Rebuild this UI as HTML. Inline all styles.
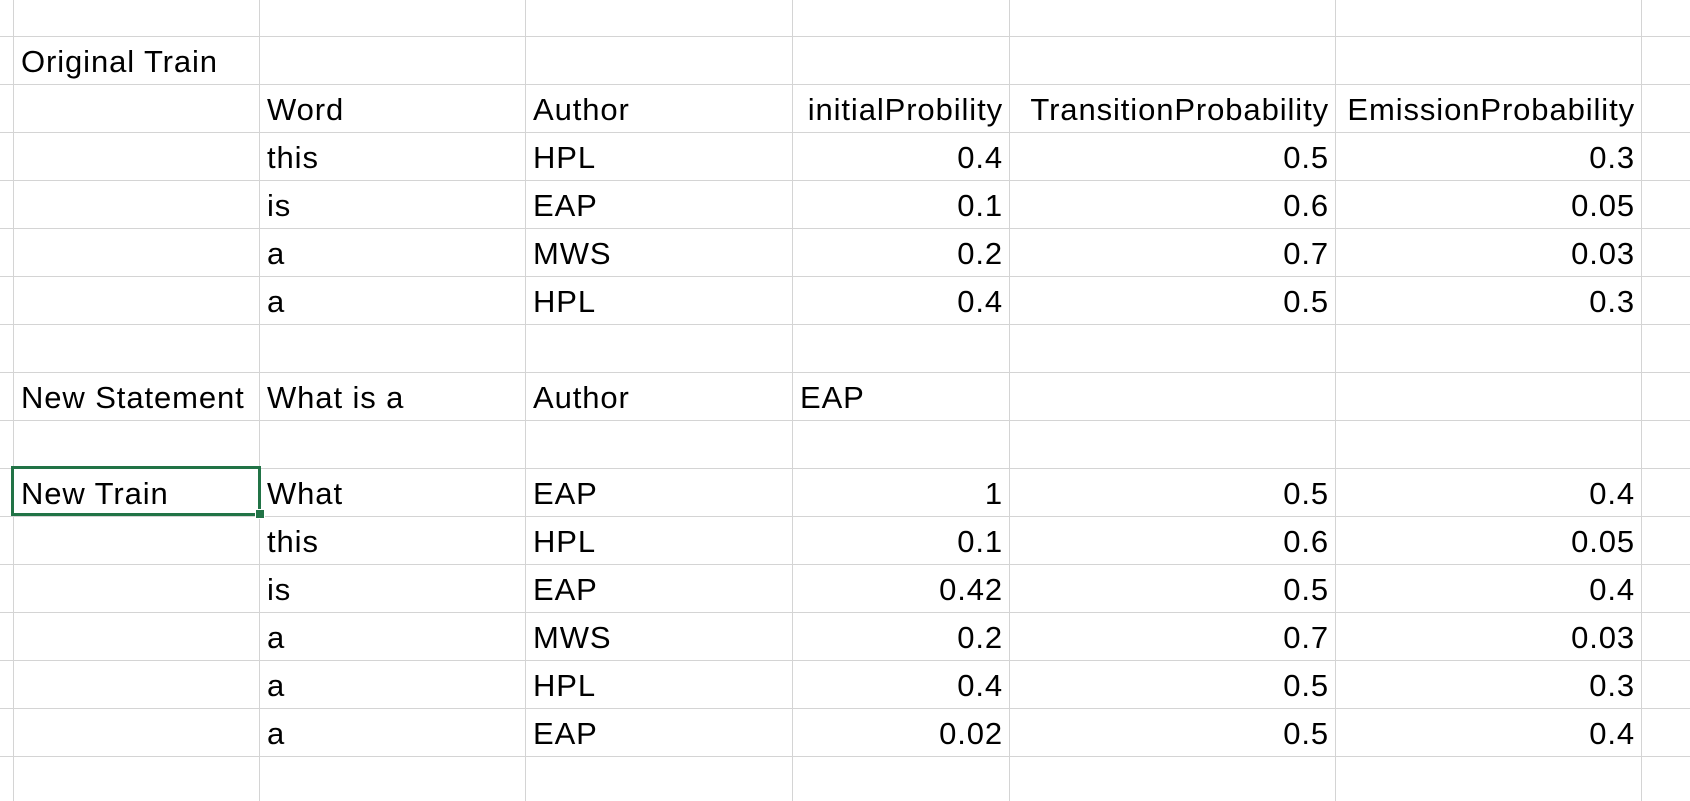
<!DOCTYPE html>
<html><head><meta charset="utf-8">
<style>
html,body{margin:0;padding:0;background:#fff;}
#sheet{position:relative;width:1690px;height:801px;overflow:hidden;font-family:"Liberation Sans",sans-serif;font-size:31px;letter-spacing:0.9px;color:#000;}
.vl{position:absolute;top:0;width:1px;height:801px;background:#d4d4d4;}
.hl{position:absolute;left:0;height:1px;width:1690px;background:#d4d4d4;}
.c{position:absolute;height:48px;line-height:52px;white-space:nowrap;}
.l{padding-left:7px;box-sizing:border-box;}
.r{text-align:right;padding-right:7px;box-sizing:border-box;}
#sel{position:absolute;left:11px;top:466px;width:244px;height:44px;border:3px solid #217346;}
#handle{position:absolute;left:255px;top:509px;width:8px;height:8px;background:#217346;border:1px solid #fff;}
</style></head><body>
<div id="sheet"></div>
<script>
const cols=[13,259,525,792,1009,1335,1641];
const rows=[36,84,132,180,228,276,324,372,420,468,516,564,612,660,708,756];
const cells=[
 [0,0,'Original Train','l'],
 [1,1,'Word','l'],[1,2,'Author','l'],[1,3,'initialProbility','r'],[1,4,'TransitionProbability','r'],[1,5,'EmissionProbability','r'],
 [2,1,'this','l'],[2,2,'HPL','l'],[2,3,'0.4','r'],[2,4,'0.5','r'],[2,5,'0.3','r'],
 [3,1,'is','l'],[3,2,'EAP','l'],[3,3,'0.1','r'],[3,4,'0.6','r'],[3,5,'0.05','r'],
 [4,1,'a','l'],[4,2,'MWS','l'],[4,3,'0.2','r'],[4,4,'0.7','r'],[4,5,'0.03','r'],
 [5,1,'a','l'],[5,2,'HPL','l'],[5,3,'0.4','r'],[5,4,'0.5','r'],[5,5,'0.3','r'],
 [7,0,'New Statement','l'],[7,1,'What is a','l'],[7,2,'Author','l'],[7,3,'EAP','l'],
 [9,0,'New Train','l'],[9,1,'What','l'],[9,2,'EAP','l'],[9,3,'1','r'],[9,4,'0.5','r'],[9,5,'0.4','r'],
 [10,1,'this','l'],[10,2,'HPL','l'],[10,3,'0.1','r'],[10,4,'0.6','r'],[10,5,'0.05','r'],
 [11,1,'is','l'],[11,2,'EAP','l'],[11,3,'0.42','r'],[11,4,'0.5','r'],[11,5,'0.4','r'],
 [12,1,'a','l'],[12,2,'MWS','l'],[12,3,'0.2','r'],[12,4,'0.7','r'],[12,5,'0.03','r'],
 [13,1,'a','l'],[13,2,'HPL','l'],[13,3,'0.4','r'],[13,4,'0.5','r'],[13,5,'0.3','r'],
 [14,1,'a','l'],[14,2,'EAP','l'],[14,3,'0.02','r'],[14,4,'0.5','r'],[14,5,'0.4','r']
];
const s=document.getElementById('sheet');
cols.forEach(x=>{const d=document.createElement('div');d.className='vl';d.style.left=x+'px';


s.appendChild(d);});
rows.forEach(y=>{const d=document.createElement('div');d.className='hl';d.style.top=y+'px';


s.appendChild(d);});
cells.forEach(([r,c,t,a])=>{const d=document.createElement('div');d.className='c '+a;
d.style.left=(cols[c]+1)+'px';d.style.top=rows[r]+'px';d.style.width=(cols[c+1]-cols[c])+'px';
if(a==='l')d.style.width='auto';
d.textContent=t;


s.appendChild(d);});
const sel=document.createElement('div');sel.id='sel';


s.appendChild(sel);
const h=document.createElement('div');h.id='handle';


s.appendChild(h);
</script>
</body></html>
